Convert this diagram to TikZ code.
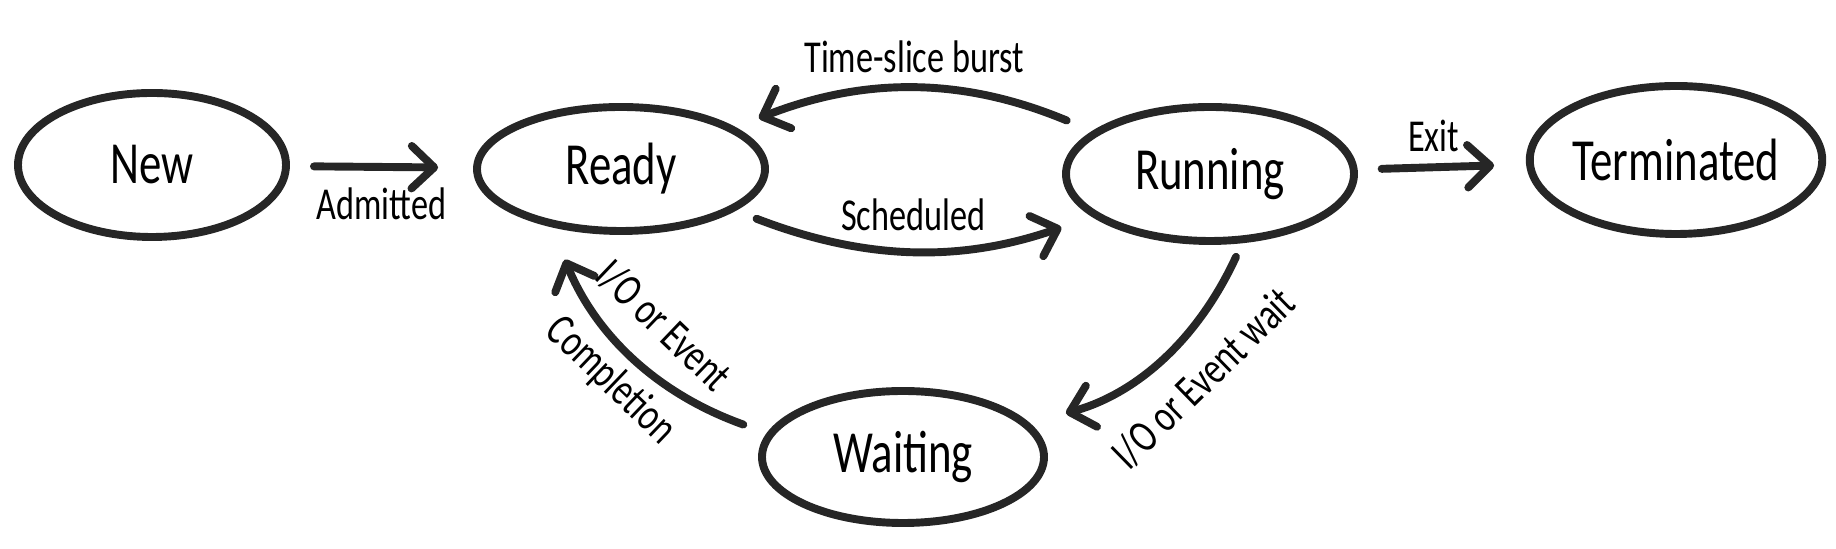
\documentclass[tikz,border=0pt]{standalone}
\usepackage{fontspec}
\setmainfont{Carlito}[FakeStretch=0.75]
\usetikzlibrary{shapes.geometric}
\usetikzlibrary{arrows.meta}

\begin{document}
\begin{tikzpicture}[
 state/.style={ellipse, draw=black!85, line width=4.5pt, inner sep=0, font=\fontsize{34}{40}\selectfont},
 trans/.style={draw=black!85, line width=4.5pt, line cap=round, -{Straight Barb[round, length=.45cm, width=.85cm]}},
 lbl/.style={font=\fontsize{26}{32}\selectfont}]
\useasboundingbox (0,0) rectangle (36.72,10.98);
% states
\node[state, minimum width=5.36cm, minimum height=2.88cm] (new) at (3.04,7.68) {New};
\node[state, minimum width=5.76cm, minimum height=2.48cm] (ready) at (12.42,7.60) {Ready};
\node[state, minimum width=5.76cm, minimum height=2.68cm] (running) at (24.20,7.50) {Running};
\node[state, minimum width=5.52cm, minimum height=2.96cm] (terminated) at (33.52,7.78) {Terminated};
\node[state, minimum width=5.64cm, minimum height=2.64cm] (waiting) at (18.06,1.84) {Waiting};
% transitions
\draw[trans, shorten <=.48cm, shorten >=.7cm] (new) -- node[lbl, below=6pt]{Admitted} (ready);
\draw[trans, shorten <=.55cm, shorten >=.5cm] (running.160) to[bend right=22] node[lbl, above=4pt]{Time-slice burst} (ready.20);
\draw[trans, shorten <=.45cm, shorten >=.65cm] (ready.-20) to[bend right=20] node[lbl, above=5pt]{Scheduled} (running.200);
\draw[trans, shorten <=.48cm, shorten >=.64cm] (running) -- node[lbl, above=3pt, pos=.45]{Exit} (terminated);
\draw[trans, shorten <=.3cm, shorten >=.75cm] (running.-65) to[bend left=25] node[lbl, sloped, below=10pt, pos=.43]{I/O or Event wait} (waiting.15);
\draw[trans, shorten <=.5cm, shorten >=.7cm] (waiting.170) to[bend left=24]
 node[lbl, sloped, above=9pt, pos=.5]{I/O or Event}
 node[lbl, sloped, below=3pt, pos=.5]{Completion} (ready.-140);
\end{tikzpicture}
\end{document}
